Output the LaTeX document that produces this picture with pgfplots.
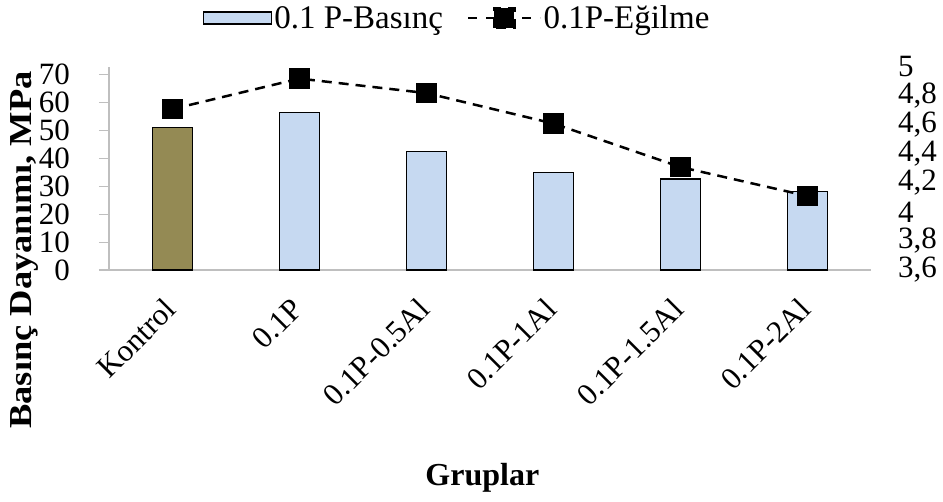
\documentclass[border=0pt]{standalone}
\usepackage{fontspec}
\setmainfont{Liberation Serif}
\usepackage{graphicx}
\usepackage{pgfplots}
\pgfplotsset{compat=1.18}

\definecolor{kontrolfill}{HTML}{948A54}
\definecolor{barblue}{HTML}{C6D9F1}
\definecolor{axgray}{HTML}{BFBFBF}
\newcommand{\tickfont}{\fontsize{31}{33}\selectfont}
\newcommand{\legfont}{\fontsize{33}{35}\selectfont}
\newcommand{\labfont}{\fontsize{32}{34}\selectfont}

\begin{document}
\begin{tikzpicture}
\path[use as bounding box] (0pt,0pt) rectangle (943pt,501pt);

% bars, left axis
\begin{axis}[
    at={(109pt,231pt)}, anchor=south west,
    width=762pt, height=203pt, scale only axis,
    xmin=-0.5, xmax=5.5,
    ymin=0, ymax=72.8,
    axis x line*=bottom, axis y line*=left,
    axis line style={-, draw=axgray, line width=1.3pt},
    xtick={0,...,5},
    xticklabels={Kontrol,0.1P,0.1P-0.5Al,0.1P-1Al,0.1P-1.5Al,0.1P-2Al},
    xtick style={draw=none},
    ytick={0,10,...,70},
    ytick style={draw=axgray, line width=1.2pt},
    tick align=outside, major tick length=10pt,
    /pgf/number format/assume math mode=true,
    xticklabel style={font=\tickfont, inner sep=0pt, xshift=-2pt, yshift=-24pt, rotate=45, anchor=east},
    yticklabel style={font=\tickfont, inner sep=0pt, anchor=east, xshift=-29pt},
    xlabel={\bfseries Gruplar},
    xlabel style={font=\labfont, at={(axis description cs:0.49,-1.025)}, anchor=center},
    ylabel={\scalebox{1.14}[1]{\bfseries Basınç Dayanımı, MPa}},
    ylabel style={font=\labfont, at={(axis description cs:-0.1115,0.099)}, anchor=center},
]
\addplot[ybar, bar width=40pt, bar shift=0pt, fill=kontrolfill, draw=black, line width=1.3pt]
    coordinates {(0,51.2)};
\addplot[ybar, bar width=40pt, bar shift=0pt, fill=barblue, draw=black, line width=1.3pt]
    coordinates {(1,56.4) (2,42.4) (3,34.9) (4,32.6) (5,28.1)};
\end{axis}

% line, right axis
\begin{axis}[
    at={(109pt,231pt)}, anchor=south west,
    width=762pt, height=203pt, scale only axis,
    xmin=-0.5, xmax=5.5,
    ymin=3.6, ymax=5,
    axis x line=none, axis y line*=right,
    y axis line style={draw=none},
    ytick={3.6,3.8,4,4.2,4.4,4.6,4.8,5},
    ytick style={draw=none},
    /pgf/number format/assume math mode=true,
    yticklabel style={font=\tickfont, inner sep=0pt, anchor=west, xshift=27pt,
        /pgf/number format/.cd, use comma, fixed, precision=1},
    legend style={at={(0.457,1.241)}, anchor=center, draw=none, fill=none,
        font=\legfont, legend columns=2,
        /tikz/every even column/.append style={column sep=22pt}},
]
\addlegendimage{legend image code/.code={
    \draw[fill=barblue, draw=black, line width=1.3pt] (0pt,-6pt) rectangle (68pt,6pt);}}
\addlegendentry{0.1 P-Basınç}
\addplot[black, line width=2.5pt, dash pattern=on 10pt off 7pt,
    mark=square*, mark size=9pt, mark options={solid},
    legend image code/.code={
        \draw[black, line width=2.5pt, dash pattern=on 9pt off 9pt] (0pt,0pt) -- (72pt,0pt);
        \fill[black] (26pt,-10pt) rectangle (46pt,10pt);}]
    coordinates {(0,4.71) (1,4.92) (2,4.82) (3,4.61) (4,4.31) (5,4.11)};
\addlegendentry{0.1P-Eğilme}
\end{axis}
\end{tikzpicture}
\end{document}
